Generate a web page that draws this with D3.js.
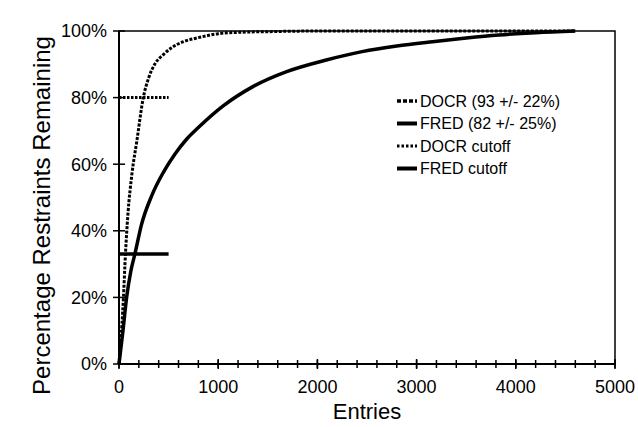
<!DOCTYPE html>
<html>
<head>
<meta charset="utf-8">
<script src="https://cdn.jsdelivr.net/npm/d3@7"></script>
<style>
  body { margin: 0; background: #fff; }
  svg { display: block; font-family: "Liberation Sans", Arial, sans-serif; }
</style>
</head>
<body>
<svg id="chart" width="638" height="427"></svg>
<script>
// ---- data ----
const docrEntries = [0, 15, 30, 45, 60, 90, 130, 180, 245, 300, 360, 450, 530, 650, 800, 1000, 1200, 1500, 2000, 3000, 4000, 4600];
const docrPct     = [0, 6, 12, 20, 30, 45, 57, 67, 80, 86, 90, 93, 95, 96.8, 98, 99.2, 99.6, 99.8, 100, 100, 100, 100];
const fredEntries = [0, 40, 77, 120, 160, 228, 329, 446, 563, 681, 800, 1050, 1350, 1690, 2090, 2450, 2800, 3160, 3500, 3830, 4200, 4600];
const fredPct     = [0, 10, 20, 28, 33, 42, 50.5, 57.5, 63, 67.5, 71, 77.5, 83.3, 87.8, 91.3, 93.8, 95.5, 96.8, 97.9, 98.8, 99.5, 100];
const docrCutoff = { pct: 80, from: 0, to: 500 };
const fredCutoff = { pct: 33, from: 0, to: 500 };
const xMajorTicks = [0, 1000, 2000, 3000, 4000, 5000];
const xMinorTicks = d3.range(0, 5001, 200);
const yTicks = [0, 20, 40, 60, 80, 100];
const legendLabels = ["DOCR (93 +/- 22%)", "FRED (82 +/- 25%)", "DOCR cutoff", "FRED cutoff"];
const xTitle = "Entries";
const yTitle = "Percentage Restraints Remaining";

// ---- layout ----
const svg = d3.select("#chart");
const L = 119, R = 615, T = 31, B = 364;
const x = d3.scaleLinear().domain([0, 5000]).range([L, R]);
const y = d3.scaleLinear().domain([0, 100]).range([B, T]);

// plot box
svg.append("rect").attr("x", L).attr("y", T).attr("width", R - L).attr("height", B - T)
  .attr("fill", "none").attr("stroke", "#000").attr("stroke-width", 1.5);

// x axis ticks (crossing)
svg.append("g").selectAll("line").data(xMinorTicks).join("line")
  .attr("x1", d => x(d)).attr("x2", d => x(d))
  .attr("y1", B - 4).attr("y2", B + 4)
  .attr("stroke", "#000").attr("stroke-width", 1.5);
svg.append("g").selectAll("line").data(xMajorTicks).join("line")
  .attr("x1", d => x(d)).attr("x2", d => x(d))
  .attr("y1", B - 5).attr("y2", B + 5)
  .attr("stroke", "#000").attr("stroke-width", 1.5);
svg.append("g").selectAll("text").data(xMajorTicks).join("text")
  .attr("x", d => x(d)).attr("y", B + 29)
  .attr("text-anchor", "middle").attr("font-size", 18).text(d => d);

// y axis ticks
svg.append("g").selectAll("line").data(yTicks).join("line")
  .attr("x1", L - 6).attr("x2", L + 6)
  .attr("y1", d => y(d)).attr("y2", d => y(d))
  .attr("stroke", "#000").attr("stroke-width", 1.5);
svg.append("g").selectAll("text").data(yTicks).join("text")
  .attr("x", L - 12).attr("y", d => y(d)).attr("dy", "0.35em")
  .attr("text-anchor", "end").attr("font-size", 18).text(d => d + "%");

// axis lines
svg.append("line").attr("x1", L).attr("x2", L).attr("y1", T).attr("y2", B).attr("stroke", "#000").attr("stroke-width", 2);
svg.append("line").attr("x1", L).attr("x2", R).attr("y1", B).attr("y2", B).attr("stroke", "#000").attr("stroke-width", 2);

// titles
svg.append("text").attr("x", (L + R) / 2).attr("y", 419)
  .attr("text-anchor", "middle").attr("font-size", 22).text(xTitle);
svg.append("text").attr("transform", `translate(50,${(T + B) / 2 + 18}) rotate(-90)`)
  .attr("text-anchor", "middle").attr("font-size", 24).text(yTitle);

// curves
const line = d3.line().x(d => x(d[0])).y(d => y(d[1])).curve(d3.curveMonotoneX);
const fred = fredEntries.map((e, i) => [e, fredPct[i]]);
const docr = docrEntries.map((e, i) => [e, docrPct[i]]);

svg.append("path").attr("d", line(fred)).attr("fill", "none")
  .attr("stroke", "#000").attr("stroke-width", 3.5).attr("stroke-linejoin", "round");
svg.append("path").attr("d", line(docr)).attr("fill", "none")
  .attr("stroke", "#000").attr("stroke-width", 3).attr("stroke-dasharray", "3,1.5");

// cutoffs
svg.append("line").attr("x1", x(docrCutoff.from)).attr("x2", x(docrCutoff.to))
  .attr("y1", y(docrCutoff.pct)).attr("y2", y(docrCutoff.pct))
  .attr("stroke", "#000").attr("stroke-width", 3).attr("stroke-dasharray", "2.5,1.5");
svg.append("line").attr("x1", x(fredCutoff.from)).attr("x2", x(fredCutoff.to))
  .attr("y1", y(fredCutoff.pct)).attr("y2", y(fredCutoff.pct))
  .attr("stroke", "#000").attr("stroke-width", 3.5);

// legend
const legendStyles = [
  { w: 3.5, dash: "4,2" },
  { w: 4, dash: null },
  { w: 3, dash: "2.5,2" },
  { w: 4, dash: null }
];
const lg = svg.append("g");
const rowY = [101, 123.5, 146, 168.5];
legendLabels.forEach((lab, i) => {
  const ln = lg.append("line").attr("x1", 397).attr("x2", 417)
    .attr("y1", rowY[i]).attr("y2", rowY[i])
    .attr("stroke", "#000").attr("stroke-width", legendStyles[i].w);
  if (legendStyles[i].dash) ln.attr("stroke-dasharray", legendStyles[i].dash);
  lg.append("text").attr("x", 420).attr("y", rowY[i]).attr("dy", "0.36em")
    .attr("font-size", 16).text(lab);
});
</script>
</body>
</html>
